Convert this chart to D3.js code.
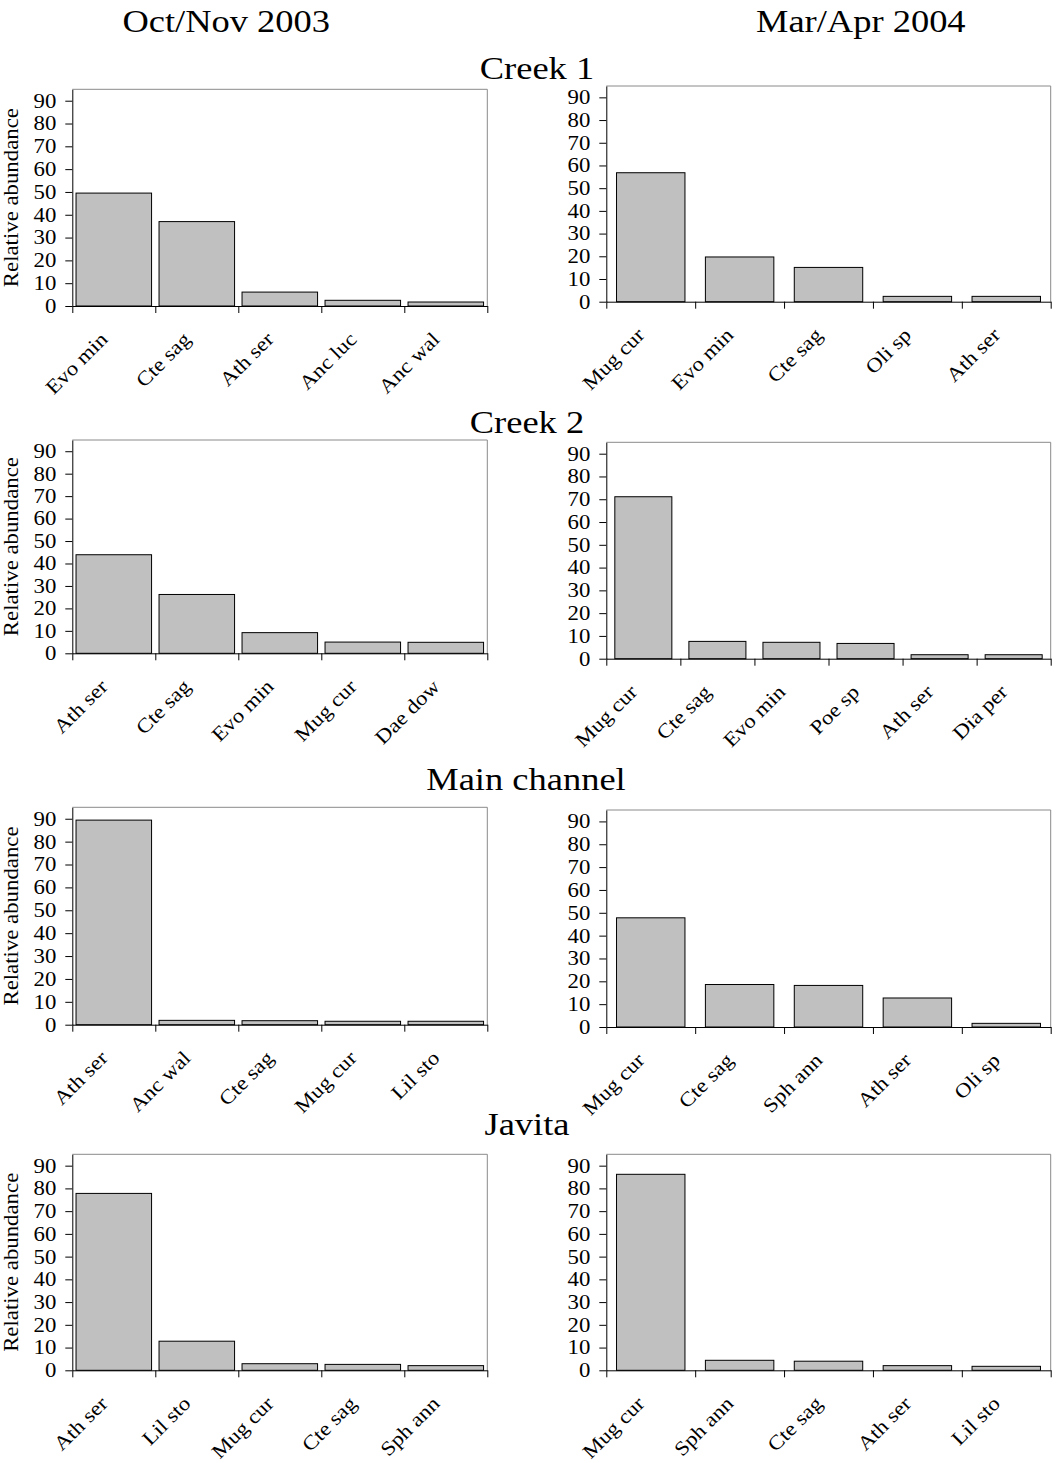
<!DOCTYPE html>
<html>
<head>
<meta charset="utf-8">
<script src="https://cdn.jsdelivr.net/npm/d3@7"></script>
<style>
  body { margin: 0; background: #fff; }
  svg { display: block; }
  text { font-family: "Liberation Serif", "Times New Roman", Times, serif; fill: #000; }
</style>
</head>
<body>
<svg id="chart" width="1062" height="1463"></svg>
<script>
// ---- data -------------------------------------------------------------
const periods = ["Oct/Nov 2003", "Mar/Apr 2004"];
const sites = ["Creek 1", "Creek 2", "Main channel", "Javita"];
const yTicks = [0, 10, 20, 30, 40, 50, 60, 70, 80, 90];
const yAxisTitle = "Relative abundance";

const creek1OctSpecies = ["Evo min", "Cte sag", "Ath ser", "Anc luc", "Anc wal"];
const creek1OctValues  = [49.5, 37.0, 6.1, 2.5, 1.75];
const creek1MarSpecies = ["Mug cur", "Evo min", "Cte sag", "Oli sp", "Ath ser"];
const creek1MarValues  = [56.8, 19.7, 15.1, 2.35, 2.35];

const creek2OctSpecies = ["Ath ser", "Cte sag", "Evo min", "Mug cur", "Dae dow"];
const creek2OctValues  = [43.9, 26.2, 9.2, 5.0, 4.9];
const creek2MarSpecies = ["Mug cur", "Cte sag", "Evo min", "Poe sp", "Ath ser", "Dia per"];
const creek2MarValues  = [71.1, 7.6, 7.2, 6.7, 1.75, 1.75];

const mainOctSpecies = ["Ath ser", "Anc wal", "Cte sag", "Mug cur", "Lil sto"];
const mainOctValues  = [89.4, 1.9, 1.75, 1.5, 1.5];
const mainMarSpecies = ["Mug cur", "Cte sag", "Sph ann", "Ath ser", "Oli sp"];
const mainMarValues  = [47.8, 18.6, 18.2, 12.7, 1.6];

const javitaOctSpecies = ["Ath ser", "Lil sto", "Mug cur", "Cte sag", "Sph ann"];
const javitaOctValues  = [77.8, 12.8, 2.9, 2.6, 2.05];
const javitaMarSpecies = ["Mug cur", "Sph ann", "Cte sag", "Ath ser", "Lil sto"];
const javitaMarValues  = [86.2, 4.4, 4.0, 2.05, 1.75];

// ---- layout -----------------------------------------------------------
const SX = 1.14;            // horizontal glyph stretch of the typeface
const yMax = 95;
const columns = [
  { x0: 72.3,  x1: 487.3,  pad: 0.09, titleX: 226.2 },
  { x0: 606.3, x1: 1050.7, pad: 0.23, titleX: 860.8 }
];
const rows = [
  { site: 0, titleX: 537, titleY: 79.3, frames: [{ top: 89.3, base: 306 },    { top: 86,    base: 301.7 }],
    panels: [[creek1OctSpecies, creek1OctValues], [creek1MarSpecies, creek1MarValues]] },
  { site: 1, titleX: 527, titleY: 433,  frames: [{ top: 440,  base: 653.3 },  { top: 442.3, base: 658.7 }],
    panels: [[creek2OctSpecies, creek2OctValues], [creek2MarSpecies, creek2MarValues]] },
  { site: 2, titleX: 526, titleY: 790,  frames: [{ top: 807.3, base: 1024.7 }, { top: 810,  base: 1027 }],
    panels: [[mainOctSpecies, mainOctValues], [mainMarSpecies, mainMarValues]] },
  { site: 3, titleX: 527, titleY: 1135, frames: [{ top: 1154.3, base: 1370.3 }, { top: 1154.3, base: 1370.3 }],
    panels: [[javitaOctSpecies, javitaOctValues], [javitaMarSpecies, javitaMarValues]] }
];

const svg = d3.select("#chart");

// column headings
svg.selectAll("text.period")
  .data(periods)
  .join("text")
  .attr("class", "period")
  .attr("text-anchor", "middle")
  .attr("font-size", 32)
  .attr("transform", (d, i) => `translate(${columns[i].titleX},31.7) scale(${SX},1)`)
  .text(d => d);

rows.forEach(row => {
  // site heading
  svg.append("text")
    .attr("text-anchor", "middle")
    .attr("font-size", 32)
    .attr("transform", `translate(${row.titleX},${row.titleY}) scale(${SX},1)`)
    .text(sites[row.site]);

  row.panels.forEach(([species, values], ci) => {
    const col = columns[ci];
    const fr = row.frames[ci];
    const g = svg.append("g");

    const y = d3.scaleLinear().domain([0, yMax]).range([fr.base, fr.top]);
    const x = d3.scaleBand()
      .domain(species)
      .range([col.x0, col.x1])
      .paddingInner(col.pad)
      .paddingOuter(col.pad / 2);
    const xEdge = d3.scaleLinear().domain([0, species.length]).range([col.x0, col.x1]);

    // plot frame (top and right)
    g.append("path")
      .attr("d", `M${col.x0},${fr.top}H${col.x1}V${fr.base}`)
      .attr("fill", "none")
      .attr("stroke", "#8a8a8a")
      .attr("stroke-width", 1);

    // bars
    g.selectAll("rect.bar")
      .data(species.map((s, i) => ({ s, v: values[i] })))
      .join("rect")
      .attr("class", "bar")
      .attr("x", d => x(d.s))
      .attr("width", x.bandwidth())
      .attr("y", d => y(d.v))
      .attr("height", d => fr.base - y(d.v))
      .attr("fill", "#c0c0c0")
      .attr("stroke", "#000")
      .attr("stroke-width", 1);

    // y axis
    const ya = g.append("g")
      .attr("transform", `translate(${col.x0},0)`)
      .call(d3.axisLeft(y).tickValues(yTicks).tickSize(7).tickSizeOuter(0).tickPadding(9));
    ya.selectAll("path, line").attr("stroke", "#000");
    ya.selectAll("text")
      .attr("font-size", 20)
      .attr("fill", "#000")
      .attr("x", -16 / SX)
      .attr("transform", `scale(${SX},1)`);
    ya.attr("font-family", null).attr("font-size", null);

    // x axis: tick marks at category boundaries
    const xa = g.append("g")
      .attr("transform", `translate(0,${fr.base})`)
      .call(d3.axisBottom(xEdge).tickValues(d3.range(species.length + 1)).tickFormat("").tickSize(7).tickSizeOuter(0));
    xa.selectAll("path, line").attr("stroke", "#000");

    // rotated category labels
    g.selectAll("text.cat")
      .data(species)
      .join("text")
      .attr("class", "cat")
      .attr("text-anchor", "end")
      .attr("font-size", 20)
      .attr("transform", d => `translate(${x(d) + x.bandwidth() / 2 - 5},${fr.base + 34.5}) rotate(-45) scale(${SX},1)`)
      .text(d => d);

    // y axis title on the left column
    if (ci === 0) {
      g.append("text")
        .attr("text-anchor", "middle")
        .attr("font-size", 20)
        .attr("transform", `translate(18.3,${(fr.top + fr.base) / 2}) rotate(-90) scale(${SX},1)`)
        .text(yAxisTitle);
    }
  });
});
</script>
</body>
</html>
